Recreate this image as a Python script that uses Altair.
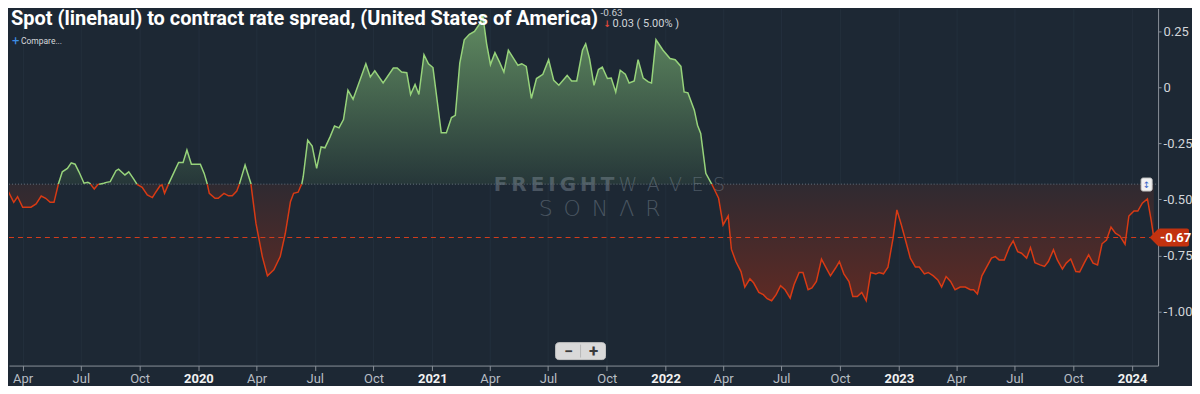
import altair as alt
import numpy as np
import pandas as pd

# ---------------- data ----------------
dates = [
    "2019-03-04", "2019-03-11", "2019-03-18", "2019-03-24", "2019-04-01", "2019-04-14", "2019-04-22", "2019-04-30", "2019-05-07", "2019-05-14", "2019-05-20", "2019-05-27",
    "2019-06-02", "2019-06-10", "2019-06-16", "2019-06-22", "2019-06-28", "2019-07-06", "2019-07-12", "2019-07-15", "2019-07-22", "2019-07-28",
    "2019-08-06", "2019-08-10", "2019-08-16", "2019-08-25", "2019-08-29", "2019-09-08", "2019-09-14", "2019-09-21", "2019-09-27",
    "2019-10-05", "2019-10-13", "2019-10-21", "2019-10-25", "2019-11-02", "2019-11-05", "2019-11-09", "2019-11-15", "2019-11-23",
    "2019-12-01", "2019-12-08", "2019-12-14", "2019-12-21",
    "2020-01-04", "2020-01-10", "2020-01-15", "2020-01-18", "2020-01-27", "2020-02-01", "2020-02-10", "2020-02-17", "2020-02-23",
    "2020-03-01", "2020-03-05", "2020-03-14", "2020-03-23", "2020-03-31", "2020-04-10", "2020-04-18", "2020-04-28", "2020-05-08", "2020-05-16", "2020-05-24", "2020-05-29",
    "2020-06-05", "2020-06-11", "2020-06-13", "2020-06-20", "2020-06-27", "2020-07-04", "2020-07-11", "2020-07-17", "2020-07-25", "2020-08-01", "2020-08-08", "2020-08-15", "2020-08-22", "2020-08-30",
    "2020-09-19", "2020-09-26", "2020-10-03", "2020-10-16", "2020-11-01", "2020-11-07", "2020-11-14", "2020-11-22", "2020-11-28", "2020-12-05", "2020-12-11", "2020-12-19", "2020-12-26",
    "2021-01-02", "2021-01-15", "2021-01-23", "2021-01-31", "2021-02-06", "2021-02-13", "2021-02-20", "2021-02-28", "2021-03-08", "2021-03-16", "2021-03-21", "2021-03-27",
    "2021-04-02", "2021-04-09", "2021-04-16", "2021-04-23", "2021-04-30", "2021-05-15", "2021-05-21", "2021-05-28", "2021-06-05", "2021-06-13", "2021-06-23",
    "2021-07-02", "2021-07-10", "2021-07-18", "2021-07-31", "2021-08-07", "2021-08-15", "2021-08-24", "2021-08-29", "2021-09-04", "2021-09-11", "2021-09-18", "2021-09-24",
    "2021-10-02", "2021-10-08", "2021-10-15", "2021-10-22", "2021-10-30", "2021-11-05", "2021-11-13", "2021-11-19", "2021-11-27", "2021-12-05", "2021-12-10", "2021-12-17", "2021-12-28",
    "2022-01-08", "2022-01-16", "2022-01-25", "2022-01-30", "2022-02-05", "2022-02-15", "2022-02-20", "2022-02-25", "2022-03-05", "2022-03-15", "2022-03-25",
    "2022-04-01", "2022-04-09", "2022-04-14", "2022-04-21", "2022-04-29", "2022-05-05", "2022-05-13", "2022-05-19", "2022-05-27", "2022-06-03", "2022-06-09", "2022-06-16", "2022-06-23", "2022-06-30",
    "2022-07-07", "2022-07-15", "2022-07-21", "2022-07-29", "2022-08-04", "2022-08-12", "2022-08-18", "2022-08-25", "2022-09-02", "2022-09-08", "2022-09-16", "2022-09-24", "2022-09-30",
    "2022-10-07", "2022-10-15", "2022-10-21", "2022-10-28", "2022-11-04", "2022-11-11", "2022-11-18", "2022-11-26", "2022-12-01", "2022-12-08", "2022-12-15", "2022-12-23", "2022-12-29",
    "2023-01-05", "2023-01-12", "2023-01-19", "2023-01-27", "2023-02-02", "2023-02-10", "2023-02-16", "2023-02-24", "2023-03-03", "2023-03-09", "2023-03-16", "2023-03-23", "2023-03-30",
    "2023-04-07", "2023-04-15", "2023-04-23", "2023-04-28", "2023-05-04", "2023-05-11", "2023-05-19", "2023-05-26", "2023-06-01", "2023-06-07", "2023-06-15", "2023-06-23", "2023-06-29",
    "2023-07-06", "2023-07-12", "2023-07-20", "2023-07-26", "2023-08-02", "2023-08-10", "2023-08-17", "2023-08-23", "2023-08-31", "2023-09-06", "2023-09-14", "2023-09-20", "2023-09-27",
    "2023-10-05", "2023-10-11", "2023-10-18", "2023-10-25", "2023-11-01", "2023-11-08", "2023-11-15", "2023-11-22", "2023-11-29", "2023-12-06", "2023-12-13", "2023-12-21", "2023-12-27",
    "2024-01-04", "2024-01-10", "2024-01-17", "2024-01-25", "2024-01-31", "2024-02-04",
]

values = [
    -0.433, -0.473, -0.513, -0.488, -0.535, -0.535, -0.520, -0.485, -0.495, -0.513, -0.513, -0.430,
    -0.377, -0.362, -0.337, -0.343, -0.377, -0.428, -0.424, -0.428, -0.454, -0.433,
    -0.428, -0.424, -0.421, -0.372, -0.365, -0.391, -0.377, -0.406, -0.433,
    -0.446, -0.480, -0.492, -0.473, -0.439, -0.436, -0.473, -0.433, -0.384,
    -0.335, -0.335, -0.280, -0.343,
    -0.343, -0.384, -0.433, -0.473, -0.495, -0.495, -0.473, -0.484, -0.484,
    -0.463, -0.433, -0.347, -0.428, -0.606, -0.755, -0.841, -0.814, -0.755, -0.651, -0.510, -0.473,
    -0.468, -0.428, -0.399, -0.236, -0.262, -0.362, -0.266, -0.270, -0.221, -0.173, -0.181, -0.144, -0.013, -0.053,
    0.105, 0.046, 0.073, 0.019, 0.086, 0.086, 0.068, 0.065, -0.032, 0.013, -0.032, 0.145, 0.105,
    0.088, -0.203, -0.203, -0.135, -0.125, 0.108, 0.212, 0.236, 0.249, 0.283, 0.320, 0.194,
    0.101, 0.154, 0.113, 0.068, 0.165, 0.098, 0.105, 0.093, -0.050, 0.039, 0.058,
    0.123, 0.031, 0.009, 0.053, 0.028, 0.028, 0.165, 0.194, 0.128, 0.009, 0.079, 0.090,
    0.039, 0.041, -0.021, 0.076, 0.058, 0.019, 0.028, 0.123, 0.041, 0.024, 0.019, 0.212, 0.165,
    0.128, 0.123, 0.093, -0.021, -0.025, -0.102, -0.169, -0.206, -0.384, -0.436, -0.495,
    -0.614, -0.574, -0.722, -0.777, -0.822, -0.891, -0.854, -0.873, -0.915, -0.925, -0.943, -0.952, -0.925, -0.885,
    -0.903, -0.940, -0.881, -0.826, -0.826, -0.903, -0.895, -0.866, -0.766, -0.799, -0.841, -0.806, -0.777,
    -0.832, -0.866, -0.933, -0.933, -0.915, -0.952, -0.826, -0.833, -0.826, -0.832, -0.802, -0.673, -0.547,
    -0.614, -0.688, -0.762, -0.802, -0.802, -0.832, -0.826, -0.841, -0.859, -0.891, -0.844, -0.866, -0.903,
    -0.891, -0.891, -0.903, -0.903, -0.922, -0.841, -0.799, -0.762, -0.755, -0.770, -0.770, -0.713, -0.685,
    -0.733, -0.740, -0.762, -0.715, -0.782, -0.792, -0.799, -0.777, -0.725, -0.770, -0.811, -0.784, -0.766,
    -0.822, -0.824, -0.784, -0.747, -0.784, -0.792, -0.698, -0.681, -0.624, -0.651, -0.663, -0.700, -0.574,
    -0.552, -0.552, -0.517, -0.498, -0.595, -0.670,
]

BASE = -0.432          # threshold the fill is drawn from
LAST = -0.67           # last value (dashed line + tag)
TITLE = "Spot (linehaul) to contract rate spread, (United States of America)"
HEADER_VALUE = "-0.63"
HEADER_CHANGE = "0.03 ( 5.00% )"
Y_TICKS = [0.25, 0, -0.25, -0.5, -0.75, -1.0]
X_TICK_MONTHS = [(2019, 4), (2019, 7), (2019, 10), (2020, 1), (2020, 4), (2020, 7), (2020, 10),
                 (2021, 1), (2021, 4), (2021, 7), (2021, 10), (2022, 1), (2022, 4), (2022, 7),
                 (2022, 10), (2023, 1), (2023, 4), (2023, 7), (2023, 10), (2024, 1)]

# ---------------- styles ----------------
BG = "#1d2834"
GREEN = "#97d37b"
RED = "#d83a14"
TAG = "#c2320f"
AXIS = "#8a9199"
FONT = "Roboto"
PLOT_W = 1152
PLOT_H = 358

# ---------------- derived tables ----------------
t = pd.to_datetime(dates)
v = np.array(values, dtype=float)
rows = []
for i in range(len(v)):
    if i > 0:
        a, b = v[i - 1] - BASE, v[i] - BASE
        if a * b < 0:
            f = a / (a - b)
            rows.append((t[i - 1] + (t[i] - t[i - 1]) * f, BASE))
    rows.append((t[i], v[i]))
df = pd.DataFrame(rows, columns=["date", "value"])
df["up"] = np.maximum(df["value"], BASE)
df["down"] = np.minimum(df["value"], BASE)

vals = df["value"].to_numpy()
pos = ((vals[:-1] + vals[1:]) / 2) >= BASE
runs = []
start = 0
rid = 0
for k in range(1, len(pos) + 1):
    if k == len(pos) or pos[k] != pos[start]:
        seg = df.iloc[start:k + 1].copy()
        seg["run"] = rid
        seg["side"] = "pos" if pos[start] else "neg"
        runs.append(seg)
        rid += 1
        start = k
line_df = pd.concat(runs, ignore_index=True)

ONE = pd.DataFrame({"k": [0]})

XSCALE = alt.Scale(domain=[alt.DateTime(year=2019, month=3, date=10, hours=14),
                           alt.DateTime(year=2024, month=2, date=10, hours=17)])
YSCALE = alt.Scale(domain=[-1.2411, 0.35142], nice=False, zero=False)

YEAR_TEST = "month(datum.value) === 0"
x_axis = alt.Axis(
    values=[alt.DateTime(year=y, month=m, date=1) for y, m in X_TICK_MONTHS],
    labelExpr="month(datum.value) === 0 ? timeFormat(datum.value, '%Y') : timeFormat(datum.value, '%b')",
    labelFontWeight={"condition": {"test": YEAR_TEST, "value": "bold"}, "value": "normal"},
    labelColor={"condition": {"test": YEAR_TEST, "value": "#f2f2f2"}, "value": "#b8bec4"},
    labelFont=FONT, labelFontSize=13, labelPadding=2, labelOverlap=False, labelFlush=False,
    tickColor=AXIS, tickSize=5, domainColor=AXIS, domainWidth=1,
    grid=True, gridColor="#232f3c", gridWidth=1, title=None,
)
y_axis = alt.Axis(
    orient="right", values=Y_TICKS,
    labelExpr="datum.value === 0 ? '0' : replace(format(datum.value, '.2f'), '\u2212', '-')",
    labelFont=FONT, labelFontSize=13, labelColor="#d2d6da", labelPadding=2,
    tickColor=AXIS, tickSize=3, domainColor=AXIS, grid=False, title=None,
)

X = alt.X("date:T", scale=XSCALE, axis=x_axis, title=None)


def yfield(name):
    return alt.Y(name, type="quantitative", scale=YSCALE, axis=y_axis, title=None)


def ydatum(val):
    return alt.YDatum(val, scale=YSCALE, axis=y_axis, title=None)


green_grad = alt.Gradient(gradient="linear", x1=1, x2=1, y1=1, y2=0,
                          stops=[alt.GradientStop(color="#263739", offset=0),
                                 alt.GradientStop(color="#618c61", offset=1)])
red_grad = alt.Gradient(gradient="linear", x1=1, x2=1, y1=1, y2=0,
                        stops=[alt.GradientStop(color="#5e2a24", offset=0),
                               alt.GradientStop(color="#2f2a31", offset=1)])

area_up = alt.Chart(df).mark_area(color=green_grad, clip=True).encode(
    x=X, y=yfield("up"), y2=alt.datum(BASE))
area_down = alt.Chart(df).mark_area(color=red_grad, clip=True).encode(
    x=X, y=yfield("down"), y2=alt.datum(BASE))

base_rule = alt.Chart(ONE).mark_rule(color="#66717c", strokeDash=[1, 2], strokeWidth=1).encode(
    y=ydatum(BASE), x=alt.value(0), x2=alt.value(PLOT_W))
last_rule = alt.Chart(ONE).mark_rule(color="#d23c1c", strokeDash=[5, 4], strokeWidth=1).encode(
    y=ydatum(LAST), x=alt.value(0), x2=alt.value(PLOT_W))

lines = alt.Chart(line_df).mark_line(strokeWidth=1.5, clip=True).encode(
    x=X, y=yfield("value"), detail="run:N",
    color=alt.Color("side:N", scale=alt.Scale(domain=["pos", "neg"], range=[GREEN, RED]), legend=None),
    order="date:T")


def ptext(text, x, y, **kw):
    return alt.Chart(ONE).mark_text(text=text, **kw).encode(x=alt.value(x), y=alt.value(y))


WM = dict(color="#93a0ac", opacity=0.38, baseline="middle", font="DejaVu Sans")
watermark = [
    ptext("F\u2009R\u2009E\u2009I\u2009G\u2009H\u2009T", 486, 177, align="left", fontSize=20, fontWeight="bold", **WM),
    ptext("W\u2002A\u2002V\u2002E\u2002S", 611, 177, align="left", fontSize=19, fontWeight=200, **WM),
    ptext("S\u2002O\u2002N\u2002\u039b\u2002R", 592, 201, align="center", fontSize=22, fontWeight=200, **WM),
]

tag_rect = alt.Chart(ONE).mark_rect(color=TAG, cornerRadius=2, yOffset=-9, y2Offset=9).encode(
    x=alt.value(1152), x2=alt.value(1183), y=ydatum(LAST), y2=alt.datum(LAST))
tag_tri = alt.Chart(ONE).mark_point(shape="M -0.5 0 L 0.5 -1 L 0.5 1 Z", filled=True, size=324,
                                    color=TAG, opacity=1, strokeWidth=0).encode(
    x=alt.value(1148), y=ydatum(LAST))
tag_text = alt.Chart(ONE).mark_text(align="left", baseline="middle", color="white", font=FONT,
                                    fontSize=13, fontWeight="bold").encode(
    x=alt.value(1154), y=ydatum(LAST), text=alt.value(f"{LAST:.2f}"))

scale_btn = [
    alt.Chart(ONE).mark_rect(color="#f2f2f2", stroke="#c8c8c8", cornerRadius=2).encode(
        x=alt.value(1135), x2=alt.value(1146), y=alt.value(170), y2=alt.value(183)),
    ptext("\u2195", 1140.5, 177, align="center", baseline="middle", fontSize=9, color="#3a66c8", font="DejaVu Sans"),
]

zoom_btns = [
    alt.Chart(ONE).mark_rect(color="#d9d9d9", stroke="#c4c4c4", cornerRadius=3).encode(
        x=alt.value(548), x2=alt.value(598), y=alt.value(335), y2=alt.value(352)),
    alt.Chart(ONE).mark_rule(color="#b8b8b8").encode(
        x=alt.value(573), y=alt.value(337), y2=alt.value(350)),
    ptext("\u2212", 561, 344, align="center", baseline="middle", fontSize=16, fontWeight="bold", color="#3a3a3a", font=FONT),
    ptext("+", 586, 344, align="center", baseline="middle", fontSize=17, fontWeight="bold", color="#3a3a3a", font=FONT),
]

header = [
    ptext(TITLE, 2, 17, align="left", baseline="alphabetic", font=FONT, fontSize=20, fontWeight="bold", color="#ffffff"),
    ptext(HEADER_VALUE, 593, 5, align="left", baseline="middle", font=FONT, fontSize=10, color="#c9cdd2"),
    ptext("\u2193", 596, 16, align="left", baseline="middle", font="DejaVu Sans", fontSize=9, fontWeight="bold", color="#e0483a"),
    ptext(HEADER_CHANGE, 605, 16, align="left", baseline="middle", font=FONT, fontSize=11, color="#d0d4d8"),
    ptext("+", 3, 33, align="left", baseline="middle", font=FONT, fontSize=13, color="#3d8ee6"),
    ptext("Compare...", 12, 33, align="left", baseline="middle", font=FONT, fontSize=8.5, color="#d6d9dc"),
]

chart = alt.layer(
    area_up, area_down, *watermark, base_rule, last_rule, lines,
    *scale_btn, tag_rect, tag_tri, tag_text, *zoom_btns, *header,
).properties(
    width=PLOT_W, height=PLOT_H, padding=0, background=BG,
).configure_view(stroke=None)

chart.save("out.html", embed_options={"renderer": "svg", "actions": False})
